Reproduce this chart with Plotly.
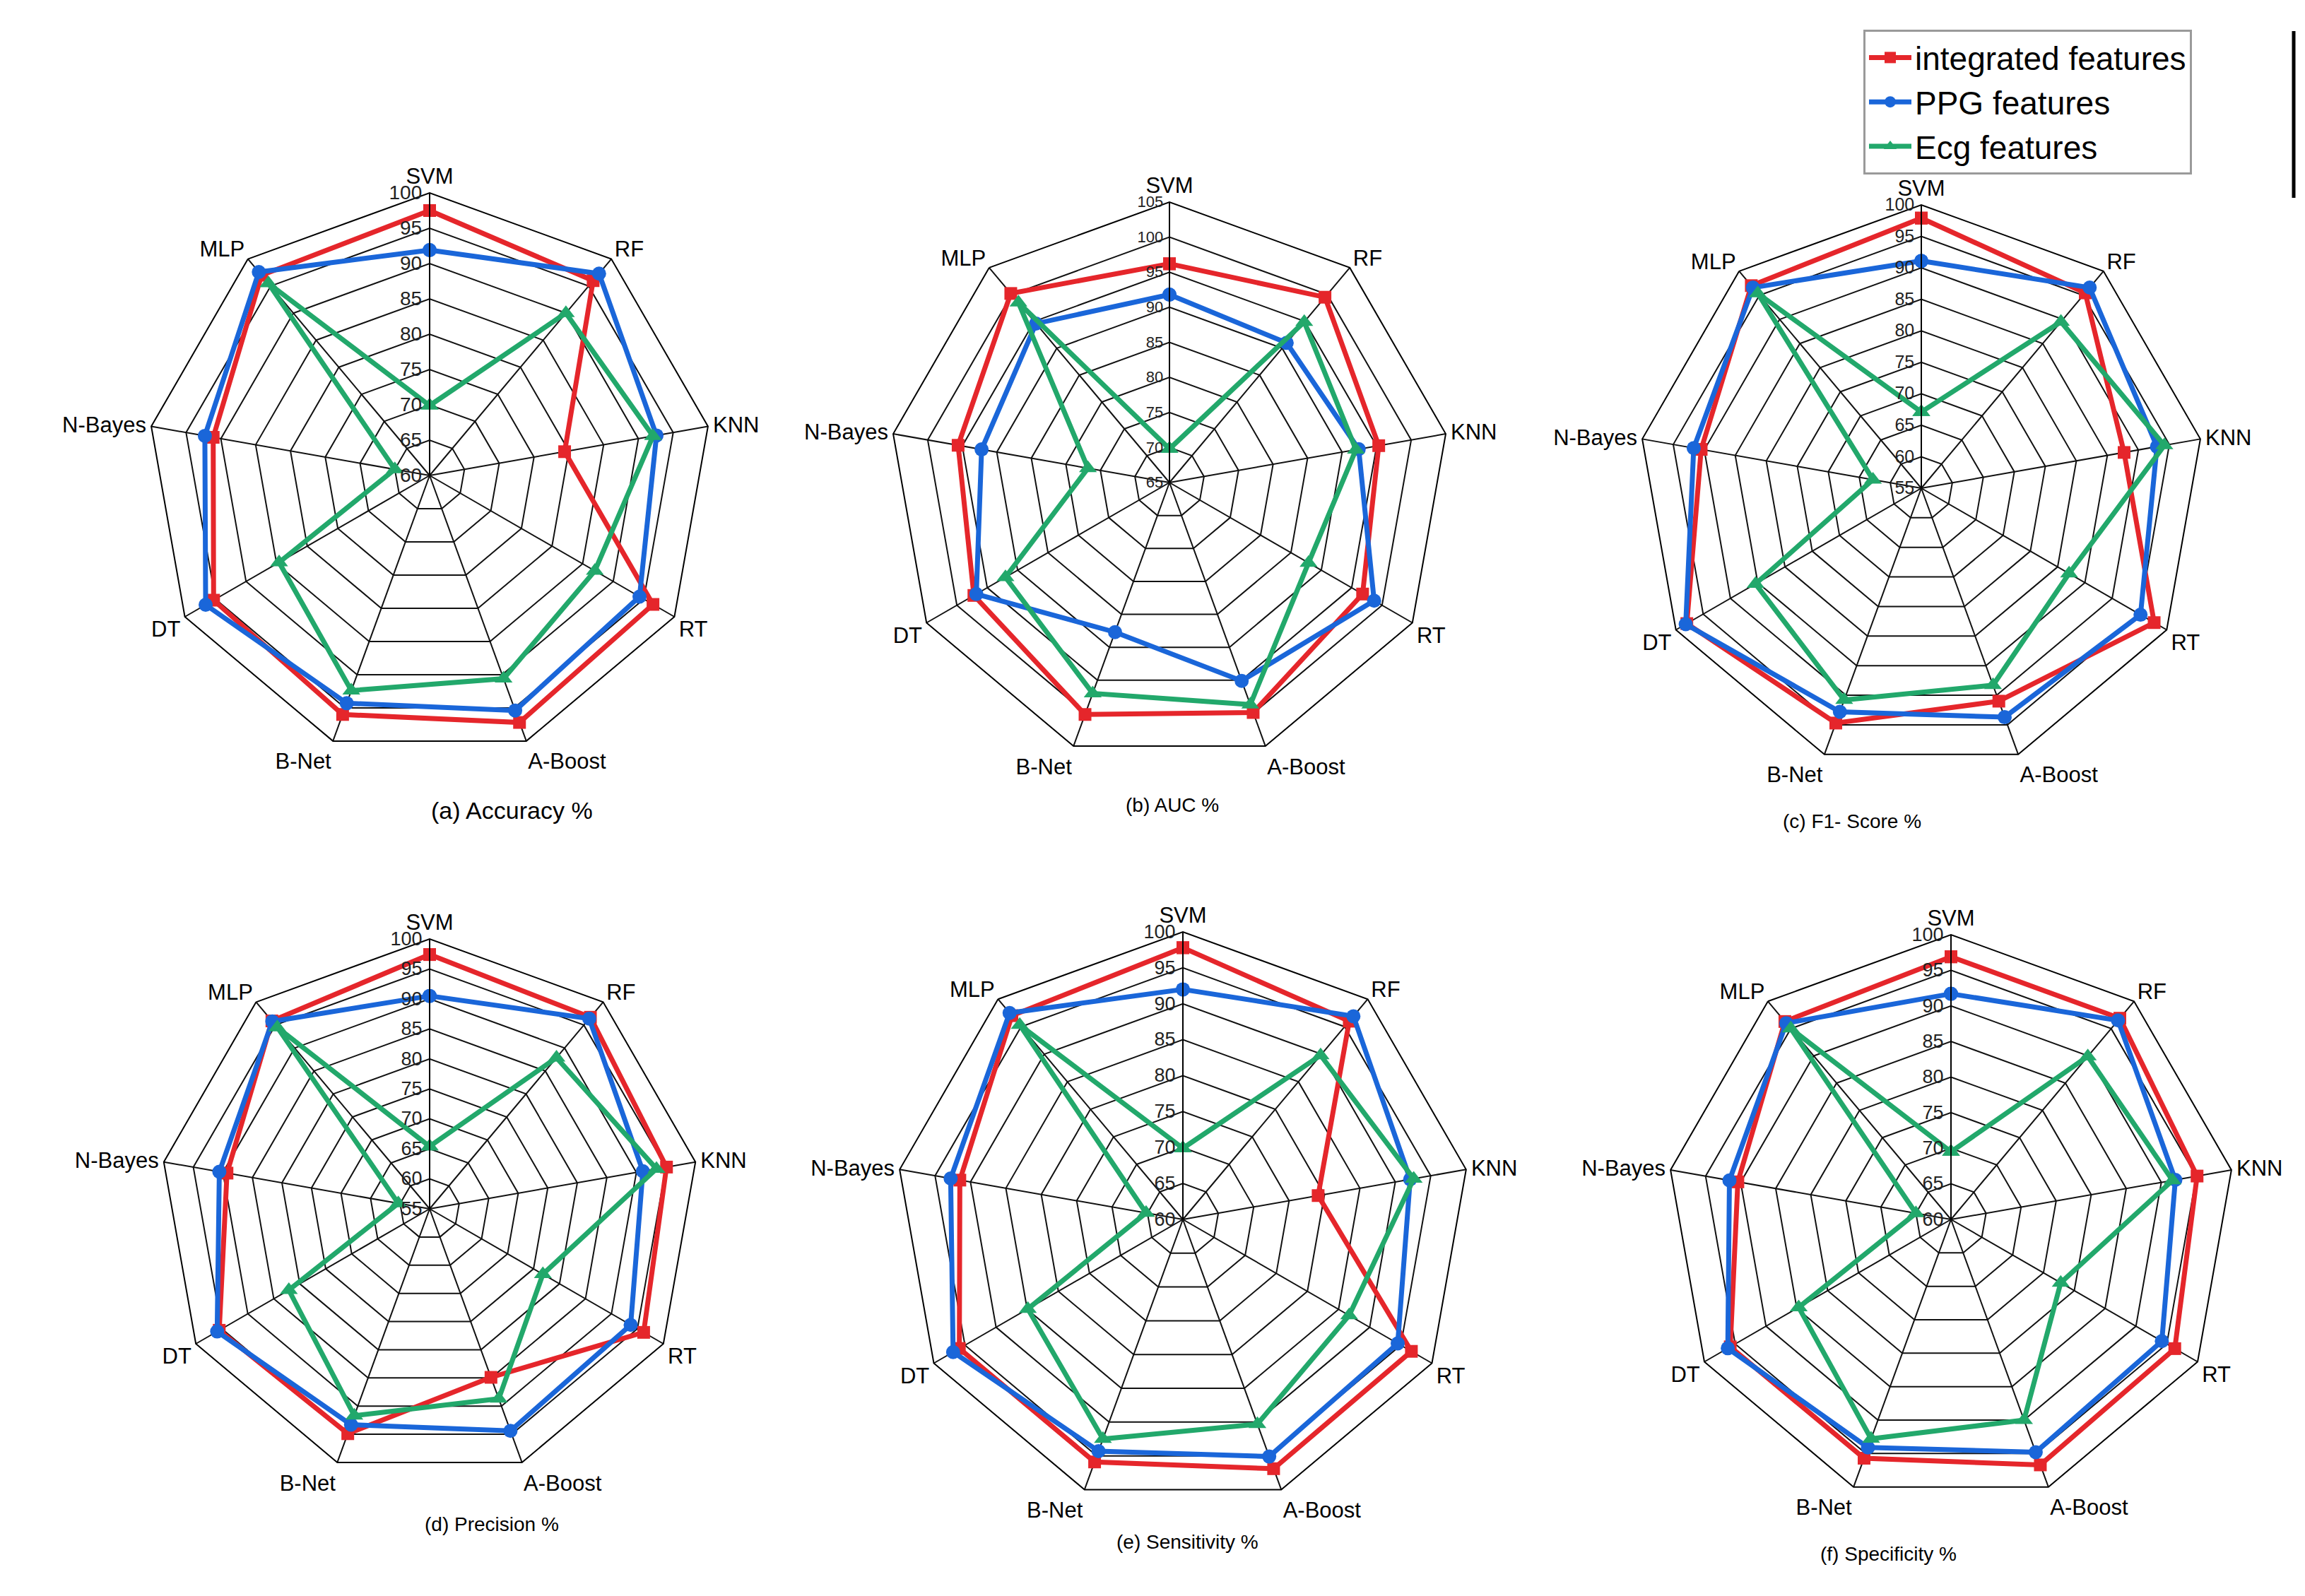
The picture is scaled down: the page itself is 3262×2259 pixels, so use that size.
import plotly.graph_objs as go

W, H = 3262, 2259

categories = ['SVM', 'RF', 'KNN', 'RT', 'A-Boost', 'B-Net', 'DT', 'N-Bayes', 'MLP']
series_names = ['integrated features', 'PPG features', 'Ecg features']

# values, order follows `categories`
accuracy_integrated = [97.5, 96.0, 79.4, 96.5, 97.2, 96.0, 95.3, 91.1, 97.0]
accuracy_ppg = [91.9, 97.3, 92.6, 94.3, 95.4, 94.3, 96.6, 92.3, 97.6]
accuracy_ecg = [69.9, 90.0, 92.1, 87.0, 90.6, 92.4, 84.6, 65.0, 95.5]

auc_integrated = [96.2, 99.5, 95.3, 96.8, 99.9, 100.2, 97.2, 95.6, 100.2]
auc_ppg = [91.8, 91.0, 92.4, 98.7, 95.1, 87.7, 96.8, 92.2, 94.6]
auc_ecg = [69.8, 94.9, 92.0, 87.9, 98.7, 97.0, 92.0, 76.8, 98.5]

f1_integrated = [97.9, 95.5, 87.7, 97.7, 91.0, 94.7, 98.0, 90.5, 97.0]
f1_ppg = [91.1, 96.6, 93.0, 95.2, 93.7, 92.8, 98.2, 91.7, 96.6]
f1_ecg = [67.1, 89.5, 94.2, 82.1, 88.3, 90.8, 85.4, 62.8, 95.4]

precision_integrated = [97.4, 96.7, 95.1, 96.2, 84.9, 94.9, 95.5, 89.3, 95.9]
precision_ppg = [90.5, 96.4, 91.1, 93.7, 94.4, 93.3, 95.9, 90.6, 95.8]
precision_ecg = [65.4, 87.9, 93.4, 76.8, 88.7, 91.7, 82.1, 60.3, 94.5]

sensitivity_integrated = [97.8, 96.0, 79.1, 96.7, 96.9, 95.9, 95.9, 91.5, 97.0]
sensitivity_ppg = [92.0, 96.9, 92.1, 94.5, 95.1, 94.3, 96.9, 92.8, 97.5]
sensitivity_ecg = [69.9, 89.8, 92.6, 86.7, 90.3, 92.5, 84.9, 65.2, 95.3]

specificity_integrated = [96.9, 96.9, 95.1, 96.3, 96.7, 95.7, 95.8, 90.4, 96.3]
specificity_ppg = [91.7, 96.5, 92.0, 94.2, 94.8, 94.1, 96.2, 91.6, 96.0]
specificity_ecg = [69.5, 89.9, 91.6, 77.8, 90.0, 92.8, 84.7, 65.0, 95.0]

titles = ['(a) Accuracy %', '(b) AUC %', '(c) F1- Score %',
          '(d) Precision %', '(e) Sensitivity %', '(f) Specificity %']
radial_ranges = [(60, 100), (65, 105), (55, 100), (55, 100), (60, 100), (60, 100)]

panel_data = [
    (accuracy_integrated, accuracy_ppg, accuracy_ecg),
    (auc_integrated, auc_ppg, auc_ecg),
    (f1_integrated, f1_ppg, f1_ecg),
    (precision_integrated, precision_ppg, precision_ecg),
    (sensitivity_integrated, sensitivity_ppg, sensitivity_ecg),
    (specificity_integrated, specificity_ppg, specificity_ecg),
]

# layout (pixels): polygon centre, polygon radius, title position, sizes
centers = [(600, 665), (1647, 675), (2711, 683), (600, 1703), (1666, 1718), (2753, 1718)]
radii = [400, 397, 401, 382, 407, 403]
title_pos = [(600, 1139), (1651, 1131), (2713, 1154), (591, 2167), (1672, 2192), (2763, 2209)]
title_sizes = [34, 28, 28, 28, 28, 28]
tick_sizes = [28, 22, 25, 27, 27, 27]

colors = ['#E5262B', '#1A66D9', '#22A86B']
symbols = ['square', 'circle', 'triangle-up']
marker_sizes = [18, 20, 22]

FONT = 'Liberation Sans'

data = []
layout = {
    'width': W,
    'height': H,
    'margin': {'l': 0, 'r': 0, 't': 0, 'b': 0},
    'paper_bgcolor': 'white',
    'font': {'family': FONT, 'color': 'black'},
    'showlegend': True,
    'legend': {
        'x': 2629 / W,
        'y': 1 - 34 / H,
        'xanchor': 'left',
        'yanchor': 'top',
        'bordercolor': '#9a9a9a',
        'borderwidth': 3,
        'bgcolor': 'white',
        'font': {'size': 46, 'family': FONT},
        'itemwidth': 60,
        'tracegroupgap': 0,
    },
    'annotations': [],
    'shapes': [{
        'type': 'line', 'xref': 'paper', 'yref': 'paper',
        'x0': 3238 / W, 'x1': 3238 / W, 'y0': 1 - 36 / H, 'y1': 1 - 272 / H,
        'line': {'color': 'black', 'width': 5},
    }],
}

for i, (values, (lo, hi)) in enumerate(zip(panel_data, radial_ranges)):
    polar_name = 'polar' if i == 0 else f'polar{i + 1}'
    cx, cy = centers[i]
    r = radii[i]
    layout[polar_name] = {
        'domain': {
            'x': [(cx - r) / W, (cx + r) / W],
            'y': [1 - (cy + r) / H, 1 - (cy - r) / H],
        },
        'gridshape': 'linear',
        'bgcolor': 'white',
        'angularaxis': {
            'rotation': 90,
            'direction': 'clockwise',
            'categoryorder': 'array',
            'categoryarray': categories,
            'showline': True,
            'linecolor': 'black',
            'linewidth': 2,
            'gridcolor': '#111',
            'gridwidth': 2,
            'ticks': '',
            'tickfont': {'size': 31, 'color': 'black'},
        },
        'radialaxis': {
            'range': [lo, hi],
            'tick0': lo,
            'dtick': 5,
            'angle': 90,
            'tickangle': 90,
            'side': 'counterclockwise',
            'showline': True,
            'linecolor': 'black',
            'linewidth': 2,
            'gridcolor': '#111',
            'gridwidth': 2,
            'ticks': '',
            'tickfont': {'size': tick_sizes[i], 'color': '#222'},
        },
    }

    for j, vals in enumerate(values):
        data.append(go.Scatterpolar(
            r=list(vals) + [vals[0]],
            theta=categories + [categories[0]],
            mode='lines+markers',
            name=series_names[j],
            legendgroup=series_names[j],
            showlegend=(i == 0),
            subplot=polar_name,
            line={'color': colors[j], 'width': 7},
            marker={'color': colors[j], 'symbol': symbols[j], 'size': marker_sizes[j]},
        ))

    tx, ty = title_pos[i]
    layout['annotations'].append({
        'text': titles[i],
        'x': tx / W,
        'y': 1 - ty / H,
        'xref': 'paper',
        'yref': 'paper',
        'showarrow': False,
        'font': {'size': title_sizes[i], 'family': FONT, 'color': 'black'},
    })

fig = go.Figure(data=data, layout=layout)
fig.write_html('out.html')
